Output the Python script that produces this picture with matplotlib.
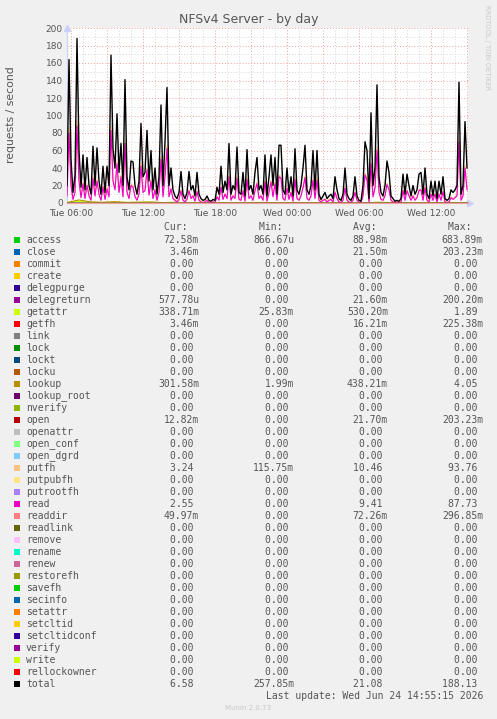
import numpy as np
import matplotlib
matplotlib.use('Agg')
import matplotlib.pyplot as plt
from matplotlib.patches import Rectangle
from matplotlib.ticker import MultipleLocator, FuncFormatter

W, H = 497, 719

''' data: 10 minute samples starting Tue 05:40 '''
start_hour = 5 + 40 / 60.0
step_hour = 10 / 60.0

total = [20, 164, 50, 12, 32, 188, 60, 18, 55, 15,
         52, 20, 10, 65, 20, 63, 25, 10, 42, 12,
         42, 20, 169, 62, 40, 102, 35, 68, 20, 141,
         30, 15, 48, 47, 20, 10, 25, 91, 30, 35,
         83, 25, 60, 15, 40, 10, 30, 112, 20, 70,
         132, 20, 40, 15, 8, 5, 12, 36, 10, 5,
         12, 36, 15, 20, 8, 35, 10, 5, 3, 4,
         8, 3, 2, 4, 3, 18, 10, 42, 12, 25,
         15, 68, 10, 20, 15, 64, 12, 10, 35, 8,
         61, 15, 20, 10, 35, 52, 15, 20, 10, 55,
         8, 30, 55, 20, 52, 10, 66, 66, 15, 10,
         40, 12, 30, 8, 62, 15, 10, 20, 40, 66,
         15, 10, 20, 60, 15, 60, 10, 4, 8, 12,
         5, 8, 10, 5, 30, 15, 5, 3, 10, 40,
         10, 5, 3, 8, 30, 8, 3, 2, 20, 70,
         60, 5, 103, 20, 40, 135, 30, 12, 8, 20,
         48, 35, 8, 5, 2, 3, 2, 5, 33, 10,
         33, 20, 8, 20, 10, 15, 33, 35, 10, 40,
         10, 5, 25, 8, 25, 5, 25, 10, 30, 5,
         3, 5, 15, 12, 15, 20, 138, 10, 20, 93,
         40]

read = [8, 80, 20, 4, 12, 88, 25, 6, 22, 5,
        20, 8, 3, 28, 8, 25, 10, 3, 18, 4,
        16, 7, 83, 25, 15, 45, 12, 30, 7, 68,
        12, 5, 20, 18, 7, 3, 10, 42, 12, 14,
        38, 9, 25, 5, 15, 3, 12, 50, 7, 30,
        62, 7, 16, 5, 3, 1, 4, 14, 3, 1,
        4, 14, 5, 8, 2, 13, 3, 1, 0.5, 1,
        3, 0.5, 0.3, 1, 0.5, 7, 3, 18, 4, 10,
        5, 30, 3, 8, 5, 28, 4, 3, 14, 2,
        27, 5, 8, 3, 14, 22, 5, 8, 3, 24,
        2, 12, 24, 7, 22, 3, 30, 28, 5, 3,
        17, 4, 12, 2, 27, 5, 3, 8, 17, 29,
        5, 3, 8, 26, 5, 26, 3, 1, 3, 4,
        1, 3, 4, 1, 12, 5, 1, 0.5, 3, 17,
        3, 1, 0.5, 3, 12, 3, 0.5, 0.3, 8, 32,
        26, 1, 45, 7, 17, 60, 12, 4, 3, 8,
        21, 15, 3, 1, 0.5, 1, 0.5, 1, 14, 3,
        14, 8, 3, 8, 3, 6, 14, 15, 3, 17,
        3, 1, 10, 3, 10, 1, 10, 3, 13, 1,
        0.5, 1, 6, 4, 6, 8, 70, 3, 8, 40,
        15]

putfh = [9, 86, 22, 5, 13, 94, 27, 7, 24, 6,
         22, 9, 4, 30, 9, 27, 11, 4, 19, 5,
         18, 8, 88, 27, 17, 48, 13, 32, 8, 72,
         13, 6, 22, 20, 8, 4, 11, 45, 13, 15,
         40, 10, 27, 6, 16, 4, 13, 53, 8, 32,
         66, 8, 17, 6, 4, 2, 5, 15, 4, 2,
         5, 15, 6, 9, 3, 14, 4, 2, 1, 2,
         4, 1, 1, 2, 1, 8, 4, 19, 5, 11,
         6, 32, 4, 9, 6, 30, 5, 4, 15, 3,
         29, 6, 9, 4, 15, 24, 6, 9, 4, 26,
         3, 13, 26, 8, 24, 4, 32, 30, 6, 4,
         18, 5, 13, 3, 29, 6, 4, 9, 18, 31,
         6, 4, 9, 28, 6, 28, 4, 2, 4, 5,
         2, 4, 5, 2, 13, 6, 2, 1, 4, 18,
         4, 2, 1, 4, 13, 4, 1, 1, 9, 34,
         28, 2, 48, 8, 18, 64, 13, 5, 4, 9,
         23, 16, 4, 2, 1, 2, 1, 2, 15, 4,
         15, 9, 4, 9, 4, 7, 15, 16, 4, 18,
         4, 2, 11, 4, 11, 2, 11, 4, 14, 2,
         1, 2, 7, 5, 7, 9, 75, 4, 9, 43,
         16]

# hourly samples for the small ones
lookup = [0.5, 3.5, 1.2, 0.8, 1.5, 0.6, 0.9, 1.1, 0.4, 0.8,
          0.3, 0.5, 0.2, 0.3, 0.1, 0.4, 0.6, 0.5, 0.3, 0.6,
          0.4, 0.3, 0.2, 0.1, 0.2, 0.3, 0.8, 0.5, 0.3, 0.2,
          0.4, 0.3, 0.5, 0.3, 0.3]
getattr_ = [0.8, 1.9, 0.9, 0.6, 1.0, 0.7, 0.8, 0.9, 0.5, 0.7,
            0.4, 0.5, 0.3, 0.4, 0.2, 0.5, 0.6, 0.5, 0.4, 0.5,
            0.4, 0.4, 0.3, 0.2, 0.3, 0.4, 0.7, 0.5, 0.4, 0.3,
            0.5, 0.4, 0.6, 0.4, 0.3]

names = ['access', 'close', 'commit', 'create', 'delegpurge', 'delegreturn',
         'getattr', 'getfh', 'link', 'lock', 'lockt', 'locku', 'lookup',
         'lookup_root', 'nverify', 'open', 'openattr', 'open_conf', 'open_dgrd',
         'putfh', 'putpubfh', 'putrootfh', 'read', 'readdir', 'readlink',
         'remove', 'rename', 'renew', 'restorefh', 'savefh', 'secinfo',
         'setattr', 'setcltid', 'setcltidconf', 'verify', 'write',
         'rellockowner', 'total']

colors = ['#00CC00', '#0066B3', '#FF8000', '#FFCC00', '#330099', '#990099',
          '#CCFF00', '#FF0000', '#808080', '#008F00', '#00487D', '#B35A00',
          '#B38F00', '#6B006B', '#8FB300', '#B30000', '#BEBEBE', '#80FF80',
          '#80C9FF', '#FFC080', '#FFE680', '#AA80FF', '#EE00CC', '#FF8080',
          '#666600', '#FFBFFF', '#00FFCC', '#CC6699', '#999900', '#00CC00',
          '#0066B3', '#FF8000', '#FFCC00', '#330099', '#990099', '#CCFF00',
          '#FF0000', '#000000']

cur = ['72.58m', '3.46m', '0.00', '0.00', '0.00', '577.78u', '338.71m', '3.46m',
       '0.00', '0.00', '0.00', '0.00', '301.58m', '0.00', '0.00', '12.82m',
       '0.00', '0.00', '0.00', '3.24', '0.00', '0.00', '2.55', '49.97m',
       '0.00', '0.00', '0.00', '0.00', '0.00', '0.00', '0.00', '0.00', '0.00',
       '0.00', '0.00', '0.00', '0.00', '6.58']
mins = ['866.67u', '0.00', '0.00', '0.00', '0.00', '0.00', '25.83m', '0.00',
        '0.00', '0.00', '0.00', '0.00', '1.99m', '0.00', '0.00', '0.00',
        '0.00', '0.00', '0.00', '115.75m', '0.00', '0.00', '0.00', '0.00',
        '0.00', '0.00', '0.00', '0.00', '0.00', '0.00', '0.00', '0.00', '0.00',
        '0.00', '0.00', '0.00', '0.00', '257.85m']
avgs = ['88.98m', '21.50m', '0.00', '0.00', '0.00', '21.60m', '530.20m', '16.21m',
        '0.00', '0.00', '0.00', '0.00', '438.21m', '0.00', '0.00', '21.70m',
        '0.00', '0.00', '0.00', '10.46', '0.00', '0.00', '9.41', '72.26m',
        '0.00', '0.00', '0.00', '0.00', '0.00', '0.00', '0.00', '0.00', '0.00',
        '0.00', '0.00', '0.00', '0.00', '21.08']
maxs = ['683.89m', '203.23m', '0.00', '0.00', '0.00', '200.20m', '1.89', '225.38m',
        '0.00', '0.00', '0.00', '0.00', '4.05', '0.00', '0.00', '203.23m',
        '0.00', '0.00', '0.00', '93.76', '0.00', '0.00', '87.73', '296.85m',
        '0.00', '0.00', '0.00', '0.00', '0.00', '0.00', '0.00', '0.00', '0.00',
        '0.00', '0.00', '0.00', '0.00', '188.13']

xticks = [6, 12, 18, 24, 30, 36]
xlabels = ['Tue 06:00', 'Tue 12:00', 'Tue 18:00', 'Wed 00:00', 'Wed 06:00', 'Wed 12:00']

bg = '#F0F0F0'
txt = '#555555'
mono = 'DejaVu Sans Mono'

fig = plt.figure(figsize=(W / 100, H / 100), dpi=100, facecolor=bg)

def fx(px):
    return px / W

def fy(py):
    return 1 - py / H

ax = fig.add_axes([fx(67), fy(203), fx(401), 175 / H])
ax.set_facecolor('white')

t = start_hour + np.arange(len(total)) * step_hour
th = start_hour + np.arange(len(lookup)) * 1.0

series = {}
for n in names:
    series[n] = (t, np.zeros(len(t)))
series['lookup'] = (th, np.array(lookup))
series['getattr'] = (th, np.array(getattr_))
series['putfh'] = (t, np.array(putfh))
series['read'] = (t, np.array(read))
series['total'] = (t, np.array(total))

for n, c in zip(names, colors):
    xs, ys = series[n]
    ax.plot(xs, ys, color=c, lw=1.0 if n == 'total' else 0.8, zorder=3)

ax.set_xlim(start_hour, start_hour + 401 / 12.0)
ax.set_ylim(0, 200)

ax.xaxis.set_major_locator(MultipleLocator(3))
ax.xaxis.set_minor_locator(MultipleLocator(1))
ax.yaxis.set_major_locator(MultipleLocator(20))
ax.yaxis.set_minor_locator(MultipleLocator(10))

lab = dict(zip(xticks, xlabels))
ax.xaxis.set_major_formatter(FuncFormatter(lambda v, p: lab.get(int(round(v)), '')))
ax.yaxis.set_major_formatter(FuncFormatter(lambda v, p: '%d' % v))

ax.grid(which='minor', color='#D6D6D6', linestyle=(0, (1, 2)), lw=0.7, zorder=1)
ax.grid(which='major', color='#F0A0A0', linestyle=(0, (1, 2)), lw=0.7, zorder=1)
ax.set_axisbelow(True)

ax.tick_params(which='both', length=0, labelsize=6.5, labelcolor=txt, pad=3)
ax.tick_params(axis='x', pad=4)
for s in ['top', 'right']:
    ax.spines[s].set_visible(False)
ax.spines['left'].set_color('#C8D0F8')
ax.spines['bottom'].set_color('#F0A0A0')
ax.spines['left'].set_linewidth(0.8)
ax.spines['bottom'].set_linewidth(0.8)

# axis arrows
ax.plot([0], [1.0], marker='^', ms=4, color='#C8D0F8', transform=ax.transAxes, clip_on=False)
ax.plot([1.005], [0], marker='>', ms=4, color='#C8D0F8', transform=ax.transAxes, clip_on=False)

fig.text(fx(249), fy(19), 'NFSv4 Server - by day', ha='center', va='center',
         fontsize=9, color=txt)
fig.text(fx(11), fy(115), 'requests / second', ha='center', va='center',
         rotation=90, fontsize=7.8, color=txt)
fig.text(fx(487), fy(5), 'RRDTOOL / TOBI OETIKER', ha='center', va='top',
         rotation=270, fontsize=4.8, color='#C8C8C8')

# legend
col_right = [199, 294, 388, 483]
heads = ['Cur:', 'Min:', 'Avg:', 'Max:']
for x, h in zip(col_right, heads):
    fig.text(fx(x), fy(227), h + '  ', ha='right', va='center', fontsize=7,
             family=mono, color=txt)

def fmt(v):
    return v if v[-1].isalpha() else v + ' '

for i, n in enumerate(names):
    y = 240 + 12 * i
    fig.patches.append(Rectangle((fx(14), fy(y + 3)), 6 / W, 6 / H,
                                 transform=fig.transFigure, facecolor=colors[i],
                                 edgecolor='none'))
    fig.text(fx(26), fy(y), n, ha='left', va='center', fontsize=7,
             family=mono, color=txt)
    for x, col in zip(col_right, [cur, mins, avgs, maxs]):
        fig.text(fx(x), fy(y), fmt(col[i]), ha='right', va='center', fontsize=7,
                 family=mono, color=txt)

fig.text(fx(483), fy(696), 'Last update: Wed Jun 24 14:55:15 2026', ha='right',
         va='center', fontsize=7, family=mono, color=txt)
fig.text(fx(248), fy(708), 'Munin 2.0.73', ha='center', va='center',
         fontsize=5, color='#C8C8C8')

fig.savefig('out.png', dpi=100, facecolor=bg)
